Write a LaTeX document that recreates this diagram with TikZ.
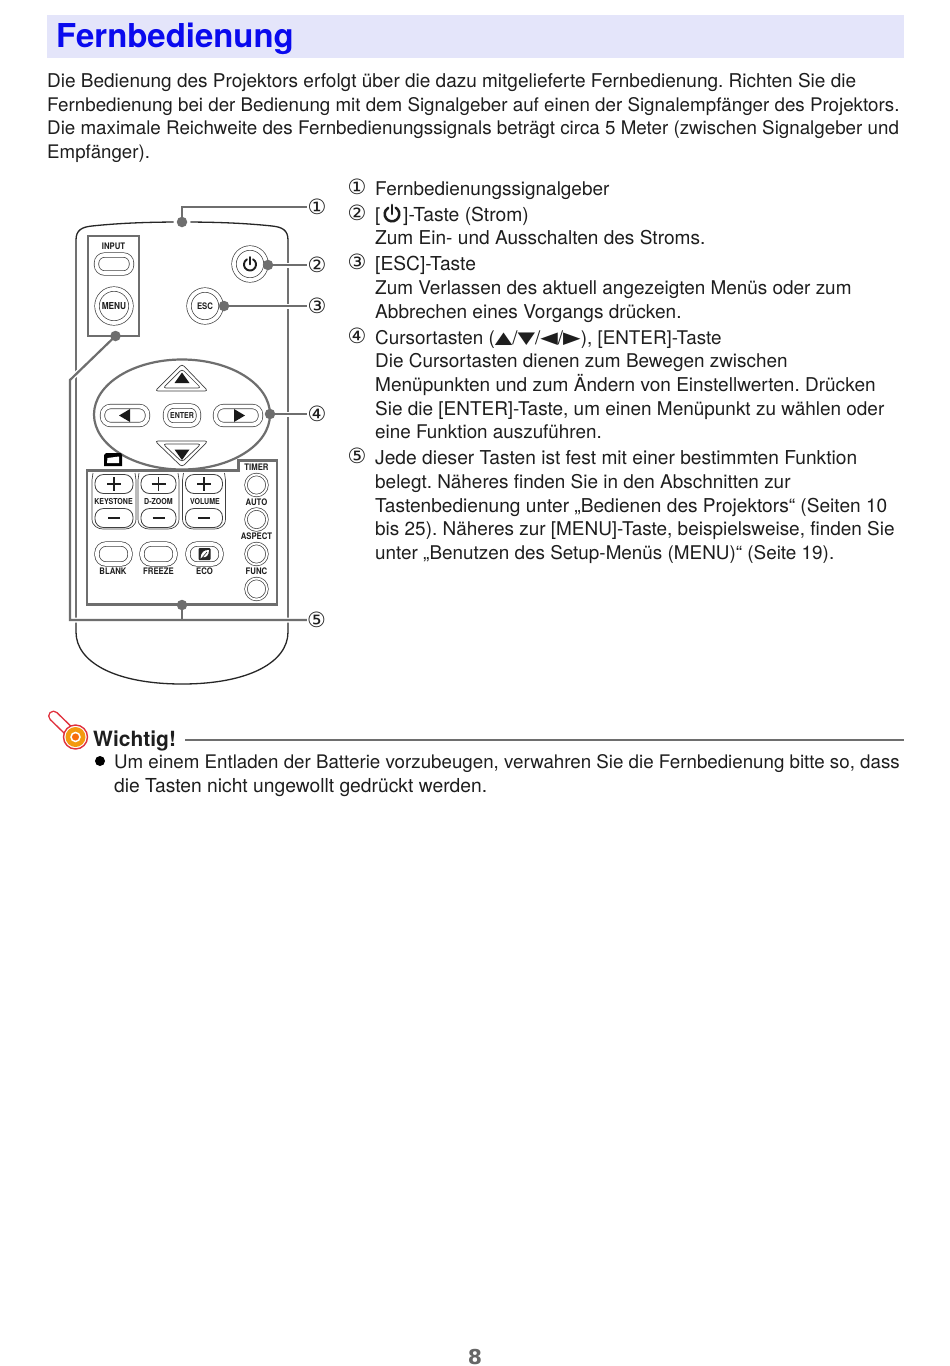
\documentclass[tikz,border=0pt]{standalone}
\usepackage{graphicx}
\usepackage{fontspec}
\setmainfont{TeX Gyre Heros}
\newfontfamily\djf{DejaVu Sans}
\newfontfamily\narb[FakeStretch=0.86,UprightFont=* Bold]{TeX Gyre Heros}
\definecolor{txtc}{HTML}{1E1E1E}
\definecolor{leadc}{HTML}{6E6E6E}
\definecolor{bandc}{HTML}{E4E5FA}
\definecolor{titlec}{HTML}{0A0AEE}
\definecolor{redc}{HTML}{E0303C}
\definecolor{orc}{HTML}{F39A10}
\newcommand{\powersym}[4]{\draw[line width=#4,line cap=round,txtc] (#1,#2) ++(60:#3) arc[start angle=60,end angle=-240,radius=#3];
 \draw[line width=#4,line cap=round,txtc] (#1,#2) -- ++(0,#3*1.25);}
\newcommand{\tg}[1]{\raisebox{.4pt}{\scalebox{1}[.72]{\djf\fontsize{22.8}{23}\selectfont #1}}}
\newcommand{\fs}[1]{\fontsize{#1}{22}\selectfont}
\tikzset{
 txt/.style={anchor=base west,inner sep=0pt,font=\frenchspacing\fontsize{18.85}{22}\selectfont,text=txtc},
 num/.style={anchor=center,inner sep=0pt,font=\djf\fontsize{21}{22}\selectfont,text=txtc},
 lbl/.style={anchor=center,inner sep=0pt,font=\narb\fontsize{9}{10}\selectfont,text=txtc},
 outl/.style={draw=black!85,line width=1.3pt},
 lead/.style={draw=leadc,line width=2.2pt,line join=miter,preaction={draw=white,line width=5pt}},
 dotn/.style={circle,fill=leadc,inner sep=0pt,minimum size=10.5pt},
 gbox/.style={draw=leadc,line width=2.2pt},
 rb/.style={draw=black!75,fill=white,line width=.7pt,double=white,double distance=3.8pt,rounded corners=#1,inner sep=0pt},
 rb/.default=8pt,
 pill/.style={draw=black!75,fill=white,line width=.8pt,rounded corners=8.5pt,inner sep=0pt,minimum width=38pt,minimum height=19pt},
 cb/.style={circle,draw=black!75,fill=white,line width=.7pt,double=white,double distance=3.8pt,inner sep=0pt},
 solid tri/.style={fill=black!90,draw=none},
 thin o/.style={draw=black!75,line width=.7pt,fill=white,rounded corners=3pt,line join=round}
}
\begin{document}
\begin{tikzpicture}[x=1pt,y=-1pt]
\useasboundingbox (0,0) rectangle (950,1366);
\fill[white] (0,0) rectangle (950,1366);
% heading
\fill[bandc] (47,15) rectangle (904,58);
\node[anchor=base west,inner sep=0pt,font=\bfseries\fontsize{32.9}{36}\selectfont,text=titlec] (title) at (56,47) {Fernbedienung};
\node[txt] (p1) at (47,87.5) {\fs{18.99}Die Bedienung des Projektors erfolgt über die dazu mitgelieferte Fernbedienung. Richten Sie die};
\node[txt] (p2) at (47,111) {\fs{18.76}Fernbedienung bei der Bedienung mit dem Signalgeber auf einen der Signalempfänger des Projektors.};
\node[txt] (p3) at (47,134) {\fs{18.78}Die maximale Reichweite des Fernbedienungssignals beträgt circa 5 Meter (zwischen Signalgeber und};
\node[txt] (p4) at (47,158) {\fs{18.67}Empfänger).};
% right column
\node[num] (n1) at (357,187) {①};
\node[txt] (r1) at (375,195) {\fs{18.93}Fernbedienungssignalgeber};
\node[num] (n2) at (357,213) {②};
\node[txt] (r2a) at (375,221) {[};
\powersym{392}{214}{7.3pt}{2.5pt}
\node[txt] (r2b) at (403,221) {\fs{19.3}]-Taste (Strom)};
\node[txt] (r2c) at (375,244) {\fs{19.08}Zum Ein- und Ausschalten des Stroms.};
\node[num] (n3) at (357,262) {③};
\node[txt] (r3) at (375,270) {\fs{19.2}[ESC]-Taste};
\node[txt] (r3b) at (375,294) {\fs{18.93}Zum Verlassen des aktuell angezeigten Menüs oder zum};
\node[txt] (r3c) at (375,318) {\fs{19.04}Abbrechen eines Vorgangs drücken.};
\node[num] (n4) at (357,336) {④};
\node[txt] (r4) at (375,344) {Cursortasten (\tg{▲}/\tg{▼}/\tg{◀}/\tg{▶}), [ENTER]-Taste};
\node[txt] (r4b) at (375,367.5) {\fs{18.94}Die Cursortasten dienen zum Bewegen zwischen};
\node[txt] (r4c) at (375,391) {\fs{19.04}Menüpunkten und zum Ändern von Einstellwerten. Drücken};
\node[txt] (r4d) at (375,415) {\fs{18.96}Sie die [ENTER]-Taste, um einen Menüpunkt zu wählen oder};
\node[txt] (r4e) at (375,438) {eine Funktion auszuführen.};
\node[num] (n5) at (357,456) {⑤};
\node[txt] (r5) at (375,464) {\fs{19.17}Jede dieser Tasten ist fest mit einer bestimmten Funktion};
\node[txt] (r5b) at (375,488) {\fs{18.94}belegt. Näheres finden Sie in den Abschnitten zur};
\node[txt] (r5c) at (375,512) {\fs{19.11}Tastenbedienung unter „Bedienen des Projektors“ (Seiten 10};
\node[txt] (r5d) at (375,535) {\fs{18.96}bis 25). Näheres zur [MENU]-Taste, beispielsweise, finden Sie};
\node[txt] (r5e) at (375,559) {\fs{18.89}unter „Benutzen des Setup-Menüs (MENU)“ (Seite 19).};
% remote outline
\draw[outl] (76,632) -- (76,240) .. controls (76,230) and (82,227) .. (92,226) .. controls (120,223) and (150,222) .. (182,222) .. controls (214,222) and (244,223) .. (272,226) .. controls (282,227) and (288,230) .. (288,240) -- (288,632) .. controls (288,662) and (249,684) .. (182,684) .. controls (115,684) and (76,662) .. (76,632);
% INPUT/MENU
\node[lbl] (linput) at (113.5,246) {INPUT};
\node[rb=8pt,minimum width=35pt,minimum height=18pt] (input) at (114,264) {};
\node[cb,minimum size=34pt,font=\narb\fontsize{9.6}{10}\selectfont,text=txtc] (menu) at (114,306) {MENU};
\node[cb,minimum size=32pt] (power) at (250,264) {};
\powersym{250}{264.5}{6pt}{1.9pt}
\node[cb,minimum size=32pt,font=\narb\fontsize{9}{10}\selectfont,text=txtc] (esc) at (205,306) {ESC};
% cursor ellipse
\draw[draw=leadc,line width=2.2pt] (182,414.5) ellipse [x radius=88pt,y radius=55pt];
\draw[thin o] (182,364) -- (208,391) -- (155,391) -- cycle;
\draw[thin o] (182,369) -- (201,388) -- (163,388) -- cycle;
\fill[solid tri] (182,372.5) -- (189.5,383) -- (174.5,383) -- cycle;
\draw[thin o] (182,467) -- (208,441) -- (155,441) -- cycle;
\draw[thin o] (182,462) -- (201,444) -- (163,444) -- cycle;
\fill[solid tri] (182,460) -- (189.5,449.5) -- (174.5,449.5) -- cycle;
\node[rb=8pt,minimum width=45pt,minimum height=18pt] (bleft) at (125,415.5) {};
\fill[solid tri] (119,415.5) -- (130,409) -- (130,422) -- cycle;
\node[rb=8pt,minimum width=45pt,minimum height=18pt] (bright) at (238,415.5) {};
\fill[solid tri] (245,415.5) -- (234,409) -- (234,422) -- cycle;
\node[rb=8pt,minimum width=33pt,minimum height=19pt,font=\narb\fontsize{8.2}{9}\selectfont,text=txtc] (enter) at (182,415.5) {ENTER};
% lower panel
\fill[black] (104,455) -- (106,453) -- (121,453) -- (122,455) -- (122,466) -- (104,466) -- cycle;
\fill[white] (107.5,458) -- (119,456.5) -- (119,463) -- (107,463) -- cycle;
\draw[gbox] (87,470.5) -- (238.5,470.5) -- (238.5,460.5) -- (277,460.5) -- (277,604.5) -- (87,604.5) -- cycle;
\node[lbl] (ltimer) at (256.5,467.5) {TIMER};
\node[lbl] (lauto) at (256.5,502) {AUTO};
\node[lbl] (laspect) at (256.5,536.5) {ASPECT};
\node[lbl] (lfunc) at (256.5,571) {FUNC};
\foreach \nm/\yy in {ct/485,ca/519.5,cs/554,cf/589}{
 \node[circle,draw=black!75,line width=.7pt,double=white,double distance=1.9pt,inner sep=0pt,minimum size=21pt] (\nm) at (256.5,\yy) {};
}
\foreach \nm/\xx/\hw in {k/114/22,d/158.5/20.5,v/204/21.5}{
 \draw[draw=black!75,line width=.7pt] (\xx-\hw+1,473) .. controls (\xx-\hw,476) .. (\xx-\hw,480) -- (\xx-\hw,519) .. controls (\xx-\hw,526) and (\xx-\hw+6,529) .. (\xx-\hw+11,529) -- (\xx+\hw-11,529) .. controls (\xx+\hw-6,529) and (\xx+\hw,526) .. (\xx+\hw,519) -- (\xx+\hw,480) .. controls (\xx+\hw,476) .. (\xx+\hw-1,473);
 \node[pill,minimum width=2*\hw-6] (\nm p) at (\xx,484) {};
 \draw[line width=1.7pt,txtc] (\xx-7,484) -- (\xx+7,484) (\xx,477) -- (\xx,491);
 \node[pill,minimum width=2*\hw-6] (\nm m) at (\xx,518) {};
 \draw[line width=1.7pt,txtc] (\xx-6,518) -- (\xx+6,518);
}
\node[lbl,font=\narb\fontsize{8.2}{9}\selectfont] (lkey) at (113.5,502) {KEYSTONE};
\node[lbl,font=\narb\fontsize{8.2}{9}\selectfont] (ldz) at (158.5,502) {D-ZOOM};
\node[lbl,font=\narb\fontsize{8.2}{9}\selectfont] (lvol) at (205,502) {VOLUME};
\node[rb=9pt,minimum width=33pt,minimum height=20pt] (blank) at (113.5,554) {};
\node[rb=9pt,minimum width=33pt,minimum height=20pt] (freeze) at (158.5,554) {};
\node[rb=9pt,minimum width=33pt,minimum height=20pt] (eco) at (204.5,554) {};
\fill[black!85,rounded corners=1pt] (198.5,548) rectangle (210.5,560);
\fill[white] (200.5,558.5) .. controls (201,552) and (204,550) .. (209,550) .. controls (209,555) and (206,558) .. (203,557) -- cycle;
\draw[black!85,line width=.6pt] (201,559) -- (207,552);
\node[lbl] (lblank) at (113,571) {BLANK};
\node[lbl] (lfreeze) at (158.5,571) {FREEZE};
\node[lbl] (leco) at (204.5,571) {ECO};
% callouts
\node[num] (c1) at (317,207) {①};
\node[num] (c2) at (317,265) {②};
\node[num] (c3) at (317,306) {③};
\node[num] (c4) at (317,414) {④};
\node[num] (c5) at (316.5,620) {⑤};
\coordinate (d1) at (182,222);
\coordinate (d2) at (268,265);
\coordinate (d3) at (224,306);
\coordinate (d4) at (270,414);
\coordinate (d5) at (182,605);
\coordinate (d6) at (115.5,336);
\coordinate (bend1) at (182,207);
\coordinate (j5) at (182,620);
\coordinate (cnr) at (70,620);
\coordinate (cnr2) at (70,380);
\fill[white] (d1) circle (8.5pt);
\draw[lead] (d1) -- (bend1) -- (c1.west);
\draw[lead] (d2) -- (c2.west);
\draw[lead] (d3) -- (c3.west);
\draw[lead] (d4) -- (c4.west);
\draw[gbox] (88,236) rectangle (139,336);
\draw[lead] (d6) -- (cnr2) -- (cnr) -- (c5.west);
\draw[draw=leadc,line width=2.2pt] (d5) -- (j5);
\foreach \dn in {d1,d2,d3,d4,d5,d6}{ \node[dotn] at (\dn) {}; }
% Wichtig
\coordinate (stem1) at (53.5,716);
\coordinate (stem2) at (72,734);
\draw[redc,line width=11pt,line cap=round] (stem1) -- (stem2);
\draw[white,line width=8pt,line cap=round] (stem1) -- (stem2);
\node[circle,draw=redc,line width=1.4pt,fill=white,minimum size=24pt,inner sep=0pt] (bulb) at (75.5,737) {};
\node[circle,fill=orc,minimum size=20pt,inner sep=0pt] (bulbm) at (75.5,737) {};
\node[circle,draw=white,line width=1.5pt,fill=orc!70!red,minimum size=9pt,inner sep=0pt] (bulbi) at (75.5,737) {};
\node[anchor=base west,inner sep=0pt,font=\bfseries\fontsize{21}{24}\selectfont,text=txtc] (wichtig) at (93,746) {Wichtig!};
\coordinate (wl) at (904,740);
\draw[draw=leadc,line width=1.6pt] (185,740) -- (wl);
\node[circle,fill=black,inner sep=0pt,minimum size=10pt] (bull) at (100,761) {};
\node[txt] (w1) at (114,768) {\fs{18.73}Um einem Entladen der Batterie vorzubeugen, verwahren Sie die Fernbedienung bitte so, dass};
\node[txt] (w2) at (114,792) {\fs{19.26}die Tasten nicht ungewollt gedrückt werden.};
\node[anchor=center,inner sep=0pt,font=\djf\bfseries\fontsize{20.5}{22}\selectfont,text=black!60] (pg) at (475,1357) {8};
\end{tikzpicture}
\end{document}
